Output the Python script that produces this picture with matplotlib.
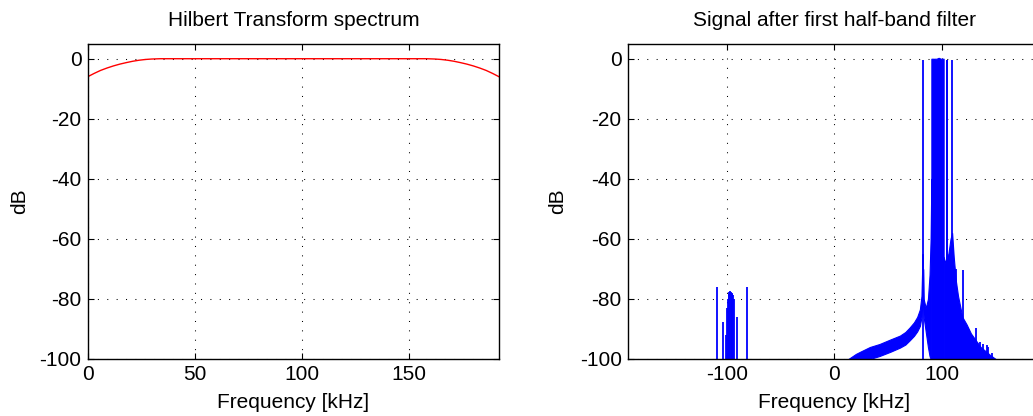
import numpy as np
import matplotlib
matplotlib.use('Agg')
import matplotlib.pyplot as plt

plt.rcParams['font.family'] = ['Liberation Sans', 'DejaVu Sans']
plt.rcParams['axes.unicode_minus'] = False

# --- left panel: Hilbert transform magnitude (kHz, dB) ---
hilb_f = [0, 3, 6, 9, 12, 15, 18, 21, 24, 27, 30, 34, 158, 162, 165, 168,
          171, 174, 177, 180, 183, 186, 189, 192]
hilb_db = [-6.0, -4.9, -3.9, -3.1, -2.4, -1.8, -1.3, -0.85, -0.5, -0.25, -0.1, 0,
           0, -0.1, -0.25, -0.5, -0.85, -1.3, -1.8, -2.4, -3.1, -3.9, -4.9, -6.0]

# --- right panel: spectrum after half-band filter ---
# lower skirt band left of the main peak
skirt_f = [13, 20, 25, 33, 42, 52, 61, 66, 70, 74, 77, 79.5, 81, 82]
skirt_hi = [-100, -98.3, -97.4, -96.0, -95.0, -93.5, -92.2, -91.0, -89.5, -87.8,
            -86.0, -83.5, -79, -65]
skirt_lo = [-100, -100, -100, -100, -99, -97.6, -96.2, -95.2, -93.8, -92.3,
            -90.8, -89, -86, -80]

# between the 82 kHz line and the main block
mid_f = [82.5, 83, 85, 87, 88.5, 89.5, 90.2]
mid_hi = [-70, -80, -83, -80, -72, -60, -40]
mid_lo = [-82, -86, -91, -96, -99, -100, -100]

# main block reaching 0 dB
core_f = [90.2, 92.2, 92.2, 92.9, 92.9, 95, 97, 99, 101.6]
core_hi = [0, 0, -88, -88, 0, 0, 0.3, 0, 0]

# decaying band right of the peak
right_f = [101.6, 103, 104.5, 106, 108, 109.5, 111, 113, 115, 119, 123, 127,
           131, 136, 141, 145, 150]
right_hi = [-66, -68, -66, -65, -60, -58, -66, -74, -79, -86, -88.5, -91.5,
            -93.5, -96, -97.5, -98.7, -100]

# isolated spectral lines
spike_f = [82.2, 104.3, 104.7, 109.8, 110.4, 113.2, 116.3, 118.5, 119.5, 124.7,
           125.6, 131.5, 135.5, 138, 141.7, 143.3, 147]
spike_db = [-0.5, -0.5, -0.5, -0.5, -62, -70, -84.4, -87.7, -70.5, -89.8,
            -90.5, -89.8, -94.2, -95, -95.4, -95.9, -98]

# image lines near -100 kHz
neg_f = [-109.4, -103.6, -100.8, -100, -99.3, -98.5, -97.7, -97, -96.3, -95.5,
         -94.8, -94, -93.3, -90.6, -81.5]
neg_db = [-76, -87.7, -92, -83, -80, -78.5, -77.8, -77.5, -77.8, -78, -78.3,
          -78.6, -80, -86, -76]

W, H = 1033, 416
fig = plt.figure(figsize=(W / 100, H / 100), dpi=100)
ax1 = fig.add_axes([87.7 / W, 57 / H, 411.3 / W, 315.3 / H])
ax2 = fig.add_axes([628.0 / W, 57 / H, 412.8 / W, 315.3 / H])

ax1.plot(hilb_f, hilb_db, color='red', lw=1.0)

blue = (0, 0, 1)
ax2.fill_between(skirt_f, skirt_lo, skirt_hi, color=blue, lw=0.8)
ax2.fill_between(mid_f, mid_lo, mid_hi, color=blue, lw=0.8)
ax2.fill_between(core_f, -100, core_hi, color=blue, lw=0.8)
ax2.fill_between(right_f, -100, right_hi, color=blue, lw=0.8)
ax2.vlines(spike_f, -100, spike_db, color=blue, lw=1.3)
ax2.vlines(neg_f, -100, neg_db, color=blue, lw=1.3)

for ax, title in ((ax1, 'Hilbert Transform spectrum'),
                  (ax2, 'Signal after first half-band filter')):
    ax.set_ylim(-100, 5)
    ax.set_yticks([-100, -80, -60, -40, -20, 0])
    ax.set_axisbelow(True)
    ax.grid(True, linestyle=(0, (1, 8)), color='k', lw=0.75)
    ax.tick_params(direction='in', top=True, right=True, length=4, width=0.8,
                   labelsize=15, pad=4.5)
    for s in ax.spines.values():
        s.set_linewidth(1.0)
    ax.set_title(title, fontsize=15, y=(359 - 21) / 315.3, va='center', pad=0)
    ax.set_xlabel('Frequency [kHz]', fontsize=15, va='center')
    ax.set_ylabel('dB', fontsize=15, va='center', ha='center')
    ax.xaxis.set_label_coords(0.5, (359 - 403) / 315.3)

ax1.set_xlim(0, 192)
ax1.set_xticks([0, 50, 100, 150])
ax1.yaxis.set_label_coords((20 - 87.7) / 411.3, 0.5)

ax2.set_xlim(-192, 192)
ax2.set_xticks([-100, 0, 100])
ax2.yaxis.set_label_coords((558 - 628.0) / 412.8, 0.5)

fig.savefig('out.png', dpi=100)
